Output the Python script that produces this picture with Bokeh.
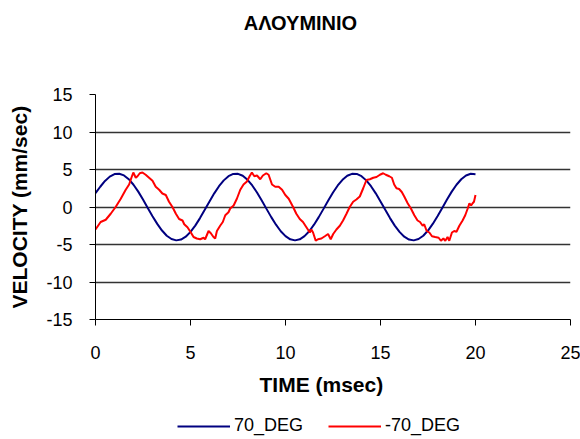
from bokeh.plotting import figure
from bokeh.layouts import column
from bokeh.models import Range1d, FixedTicker, Legend, LegendItem, Label
from bokeh.embed import file_html
from bokeh.resources import INLINE

# ---- data ----
time_70 = [0.0, 0.25, 0.5, 0.75, 1.0, 1.25, 1.5, 1.75, 2.0, 2.25, 2.5, 2.75,
           3.0, 3.25, 3.5, 3.75, 4.0, 4.25, 4.5, 4.75, 5.0, 5.25, 5.5, 5.75,
           6.0, 6.25, 6.5, 6.75, 7.0, 7.25, 7.5, 7.75, 8.0, 8.25, 8.5, 8.75,
           9.0, 9.25, 9.5, 9.75, 10.0, 10.25, 10.5, 10.75, 11.0, 11.25, 11.5, 11.75,
           12.0, 12.25, 12.5, 12.75, 13.0, 13.25, 13.5, 13.75, 14.0, 14.25, 14.5, 14.75,
           15.0, 15.25, 15.5, 15.75, 16.0, 16.25, 16.5, 16.75, 17.0, 17.25, 17.5, 17.75,
           18.0, 18.25, 18.5, 18.75, 19.0, 19.25, 19.5, 19.75, 20.0]
vel_70 = [1.85, 2.7, 3.47, 4.05, 4.39, 4.44, 4.21, 3.71, 2.97, 2.05, 1.0, -0.12,
          -1.22, -2.25, -3.14, -3.83, -4.27, -4.45, -4.34, -3.96, -3.32, -2.48, -1.48, -0.38,
          0.74, 1.82, 2.77, 3.55, 4.11, 4.41, 4.42, 4.16, 3.63, 2.87, 1.93, 0.87,
          -0.25, -1.35, -2.36, -3.23, -3.89, -4.31, -4.45, -4.31, -3.89, -3.23, -2.36, -1.35,
          -0.25, 0.87, 1.93, 2.87, 3.63, 4.16, 4.42, 4.41, 4.11, 3.55, 2.77, 1.82,
          0.74, -0.38, -1.48, -2.48, -3.32, -3.96, -4.34, -4.45, -4.27, -3.83, -3.14, -2.26,
          -1.23, -0.12, 0.99, 2.05, 2.97, 3.70, 4.20, 4.43, 4.38]

time_m70 = [0.0, 0.27, 0.54, 0.80, 1.06, 1.33, 1.59, 1.77, 1.89, 1.99, 2.12, 2.21,
            2.33, 2.47, 2.64, 2.82, 3.00, 3.17, 3.35, 3.52, 3.70, 3.87, 4.05, 4.23,
            4.40, 4.58, 4.67, 4.84, 5.02, 5.16, 5.33, 5.51, 5.69, 5.77, 5.95, 6.07,
            6.21, 6.30, 6.39, 6.56, 6.70, 6.83, 7.00, 7.09, 7.27, 7.44, 7.62, 7.79,
            7.97, 8.11, 8.23, 8.36, 8.50, 8.67, 8.81, 8.99, 9.11, 9.29, 9.46, 9.64,
            9.82, 9.99, 10.17, 10.40, 10.57, 10.75, 10.92, 11.10, 11.28, 11.36, 11.45, 11.59,
            11.71, 11.89, 12.07, 12.24, 12.38, 12.51, 12.68, 12.86, 13.03, 13.21, 13.38, 13.56,
            13.73, 13.91, 14.09, 14.26, 14.44, 14.62, 14.79, 14.97, 15.14, 15.28, 15.46, 15.60,
            15.72, 15.84, 15.98, 16.12, 16.25, 16.43, 16.60, 16.78, 16.95, 17.08, 17.22, 17.30,
            17.43, 17.57, 17.71, 17.88, 18.06, 18.18, 18.31, 18.41, 18.53, 18.62, 18.76, 18.88,
            19.00, 19.15, 19.32, 19.46, 19.59, 19.68, 19.77, 19.85, 19.92, 20.0]
vel_m70 = [-3.0, -2.0, -1.7, -0.9, 0.0, 1.1, 2.3, 3.0, 3.9, 4.6, 3.9, 4.1,
           4.5, 4.6, 4.3, 3.9, 3.5, 2.7, 2.3, 1.8, 1.6, 0.7, 0.0, -0.9,
           -1.6, -1.8, -2.3, -2.7, -3.4, -4.0, -4.2, -4.3, -4.1, -4.3, -3.2, -3.5,
           -4.0, -4.2, -3.2, -2.5, -2.0, -1.1, -0.7, -0.2, 0.2, 1.1, 2.3, 3.0,
           3.4, 4.1, 4.6, 4.1, 4.2, 3.7, 4.2, 4.5, 4.3, 3.0, 2.7, 2.7,
           2.3, 1.6, 1.1, 0.0, -0.9, -1.6, -2.0, -2.7, -3.4, -3.0, -3.4, -4.5,
           -4.3, -4.2, -3.9, -3.6, -4.3, -3.6, -3.0, -2.5, -1.8, -0.9, 0.0, 0.7,
           1.0, 1.4, 2.5, 3.6, 3.7, 3.9, 4.0, 4.3, 4.5, 4.3, 4.1, 3.9,
           3.0, 2.5, 2.4, 2.0, 1.4, 0.5, -0.2, -1.1, -1.8, -2.0, -2.5, -2.3,
           -3.2, -3.4, -3.9, -4.0, -4.1, -4.5, -4.2, -4.5, -4.0, -4.5, -3.4, -3.2,
           -3.3, -2.5, -1.8, -1.1, -0.2, 0.5, 0.2, 0.5, 0.7, 1.6]

x_ticks = [0, 5, 10, 15, 20, 25]
y_ticks = [-15, -10, -5, 0, 5, 10, 15]

title_text = "ΑΛΟΥΜΙΝΙΟ"
x_label = "TIME (msec)"
y_label = "VELOCITY (mm/sec)"
series_names = ["70_DEG", "-70_DEG"]
series_colors = ["#000080", "#FF0000"]

FONT = "Liberation Sans"
W = 580
FRAME_LEFT = 95


def bare(fig):
    fig.axis.visible = False
    fig.grid.visible = False
    fig.outline_line_color = None
    return fig


# ---- title strip ----
pt = bare(figure(width=W, height=50, output_backend="svg", toolbar_location=None,
                 x_range=Range1d(0, 1), y_range=Range1d(0, 1), min_border=0))
pt.add_layout(Label(x=300 - FRAME_LEFT, y=28, x_units="screen", y_units="screen", text=title_text,
                    text_align="center", text_baseline="middle", text_font=FONT,
                    text_font_style="bold", text_font_size="20px", text_color="black"))

# ---- main chart ----
p = figure(width=W, height=355, output_backend="svg", toolbar_location=None,
           x_range=Range1d(0, 25), y_range=Range1d(-15, 15),
           min_border_left=FRAME_LEFT, min_border_right=10, min_border_top=44, min_border_bottom=86,
           background_fill_color="white", border_fill_color="white")
p.outline_line_color = None

for ax in (p.xaxis[0], p.yaxis[0]):
    ax.axis_line_color = "black"
    ax.axis_line_width = 1
    ax.major_tick_line_color = "black"
    ax.major_tick_in = 0
    ax.major_tick_out = 6
    ax.minor_tick_line_color = None
    ax.major_label_text_font = FONT
    ax.major_label_text_font_size = "18px"
    ax.major_label_text_color = "black"
    ax.axis_label_text_font = FONT
    ax.axis_label_text_font_style = "bold"
    ax.axis_label_text_font_size = "21px"
    ax.axis_label_text_color = "black"

p.xaxis.ticker = FixedTicker(ticks=x_ticks)
p.yaxis.ticker = FixedTicker(ticks=y_ticks)
p.yaxis.major_label_overrides = {t: str(t) for t in y_ticks}
p.xaxis.major_label_overrides = {t: str(t) for t in x_ticks}
p.xaxis.axis_label = x_label + "\u00a0" * 4
p.yaxis.axis_label = y_label
p.xaxis.major_label_standoff = 20
p.xaxis.axis_label_standoff = 11
p.yaxis.major_label_standoff = 17
p.yaxis.axis_label_standoff = 12

p.xgrid.grid_line_color = None
p.ygrid.ticker = FixedTicker(ticks=y_ticks)
p.ygrid.grid_line_color = "#333333"
p.ygrid.grid_line_width = 1.3

p.line(time_70, vel_70, line_color=series_colors[0], line_width=2)
p.line(time_m70, vel_m70, line_color=series_colors[1], line_width=2)

# ---- legend strip (same series, ranges chosen so only the legend shows) ----
pl = bare(figure(width=W, height=34, output_backend="svg", toolbar_location=None,
                 x_range=Range1d(100, 101), y_range=Range1d(100, 101), min_border=0))
proxies = [pl.line(time_70, vel_70, line_color=series_colors[0], line_width=2),
           pl.line(time_m70, vel_m70, line_color=series_colors[1], line_width=2)]
legend = Legend(items=[LegendItem(label=n, renderers=[r]) for n, r in zip(series_names, proxies)],
                orientation="horizontal", location=(177 - FRAME_LEFT, 3),
                border_line_color=None, background_fill_alpha=0,
                glyph_width=53, glyph_height=20, label_text_font=FONT,
                label_text_font_size="18px", label_text_color="black",
                label_height=20, spacing=25, padding=0, margin=0, label_standoff=4)
pl.add_layout(legend, "center")

open("out.html", "w").write(file_html(column(pt, p, pl, spacing=0), INLINE))
